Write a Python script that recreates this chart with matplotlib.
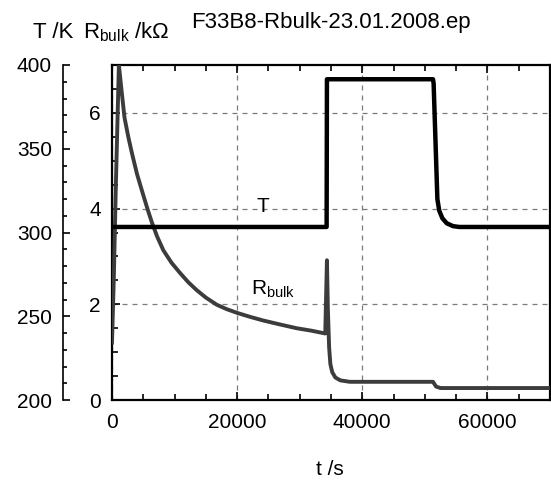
import matplotlib
matplotlib.use("Agg")
import matplotlib.pyplot as plt
from matplotlib.ticker import MultipleLocator

plt.rcParams['font.family'] = ['Liberation Sans', 'DejaVu Sans']
plt.rcParams['mathtext.fontset'] = 'custom'
plt.rcParams['mathtext.rm'] = 'Liberation Sans'
plt.rcParams['mathtext.it'] = 'Liberation Sans'

t_R = [0, 300, 600, 1100, 1500, 2000, 2600, 3200, 4000, 5000, 5700, 6350,
       7200, 8200, 9500, 10900, 12200, 13500, 15000, 16750, 18300, 20000,
       22000, 24200, 26800, 29500, 31800, 34080,
       34350, 34500, 34700, 34900, 35200, 35700, 36500, 38000, 51300, 51800,
       52500, 70000]
R_bulk = [1.2, 2.6, 4.4, 7.0, 6.5, 5.9, 5.5, 5.15, 4.72, 4.28, 3.98, 3.72,
          3.42, 3.13, 2.87, 2.65, 2.46, 2.30, 2.14, 1.99, 1.90, 1.82,
          1.74, 1.66, 1.58, 1.50, 1.45, 1.39,
          2.92, 1.9, 1.1, 0.75, 0.58, 0.47, 0.41, 0.38, 0.38, 0.28,
          0.25, 0.25]

t_T = [0, 34300, 34350, 51300, 51400, 52000, 52300, 52800, 53500, 54500,
       55500, 70000]
T = [303.3, 303.3, 391.5, 391.5, 389, 320, 313, 308.5, 305.5, 303.8,
     303.3, 303.3]

x_ticks = [0, 20000, 40000, 60000]
r_ticks = [0, 2, 4, 6]
t_ticks = [200, 250, 300, 350, 400]

fig = plt.figure(figsize=(5.51, 4.82), dpi=100)
ax = fig.add_axes([112/551, 82/482, 438/551, 335/482])

ax.plot(t_R, R_bulk, color='#3c3c3c', lw=2.8, zorder=3)
ax.set_xlim(0, 70000)
ax.set_ylim(0, 7)
ax.set_xticks(x_ticks)
ax.set_yticks(r_ticks)
ax.xaxis.set_minor_locator(MultipleLocator(5000))
ax.yaxis.set_minor_locator(MultipleLocator(0.5))
ax.tick_params(which='both', direction='in', top=True, right=True,
               labelsize=15, width=1.2, color='black')
ax.tick_params(which='major', length=6)
ax.tick_params(which='minor', length=4)
ax.tick_params(axis='x', pad=9)
ax.tick_params(axis='y', pad=8)
ax.grid(True, which='major', ls=(0, (4, 4)), color='#7a7a7a', lw=0.9)
for s in ax.spines.values():
    s.set_linewidth(1.6)

ax2 = ax.twinx()
ax2.plot(t_T, T, color='black', lw=3.2)
ax2.set_ylim(200, 400)
ax2.set_yticks(t_ticks)
ax2.yaxis.set_minor_locator(MultipleLocator(10))
ax2.spines['left'].set_position(('axes', -49/438))
ax2.spines['left'].set_linewidth(1.2)
for side in ['right', 'top', 'bottom']:
    ax2.spines[side].set_visible(False)
ax2.yaxis.set_ticks_position('left')
ax2.tick_params(which='both', direction='in', labelsize=15, width=1.2, pad=8)
ax2.tick_params(which='major', length=5)
ax2.tick_params(which='minor', length=3)

ax.text(24160, 3.93, 'T', fontsize=15, ha='center', va='baseline')
ax.text(22240, 2.19, r'R$_{\rm bulk}$', fontsize=15, ha='left', va='baseline')

fig.text(331/551, 1 - 28/482, 'F33B8-Rbulk-23.01.2008.ep', fontsize=16,
         ha='center', va='baseline')
fig.text(33/551, 1 - 38/482, 'T /K', fontsize=16, ha='left', va='baseline')
fig.text(83/551, 1 - 38/482, r'R$_{\rm bulk}$ /kΩ', fontsize=16,
         ha='left', va='baseline')
fig.text(330/551, 1 - 475/482, 't /s', fontsize=15, ha='center', va='baseline')

fig.savefig('out.png', dpi=100)
